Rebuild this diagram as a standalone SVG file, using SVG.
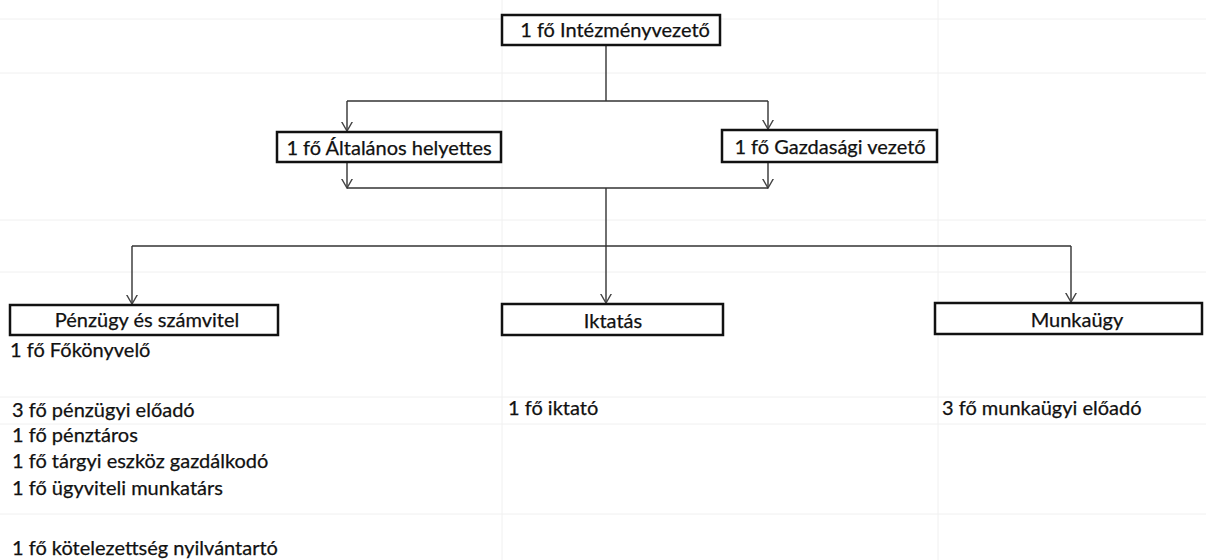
<svg xmlns="http://www.w3.org/2000/svg" width="1206" height="560" viewBox="0 0 1206 560">
<style>
.box{fill:#fff;stroke:#111;stroke-width:2.5}
.t{font-family:Lato,"Liberation Sans",sans-serif;font-size:20px;fill:#111;stroke:#111;stroke-width:0.25}
.c{text-anchor:middle}
.conn{fill:none;stroke:#333;stroke-width:1.4}
.grid{stroke:#f0f0f0;stroke-width:1}
</style>
<defs>
<marker id="arr" viewBox="0 0 10 12" refX="9.5" refY="6" markerWidth="10" markerHeight="12" markerUnits="userSpaceOnUse" orient="auto">
<path d="M0,0.5 L9.5,6 L0,11.5" fill="none" stroke="#444" stroke-width="1.4"/>
</marker>
</defs>
<rect width="1206" height="560" fill="#fff"/>
<g id="grid">
<line class="grid" x1="502" y1="0" x2="502" y2="560"/>
<line class="grid" x1="938" y1="0" x2="938" y2="560"/>
<line class="grid" x1="0" y1="19" x2="1206" y2="19"/>
<line class="grid" x1="0" y1="73" x2="1206" y2="73"/>
<line class="grid" x1="0" y1="220" x2="1206" y2="220"/>
<line class="grid" x1="0" y1="272" x2="1206" y2="272"/>
<line class="grid" x1="0" y1="397" x2="1206" y2="397"/>
<line class="grid" x1="0" y1="424" x2="1206" y2="424"/>
<line class="grid" x1="0" y1="514" x2="1206" y2="514"/>
</g>
<g id="connectors">
<polyline class="conn" points="606,45 606,101"/>
<polyline class="conn" points="347,101 768,101"/>
<line class="conn" x1="347" y1="101" x2="347" y2="131" marker-end="url(#arr)"/>
<line class="conn" x1="768" y1="101" x2="768" y2="129" marker-end="url(#arr)"/>
<line class="conn" x1="347" y1="163" x2="347" y2="188" marker-end="url(#arr)"/>
<line class="conn" x1="768" y1="163" x2="768" y2="188" marker-end="url(#arr)"/>
<polyline class="conn" points="347,188 768,188"/>
<polyline class="conn" points="606,188 606,246"/>
<polyline class="conn" points="132,246 1071,246"/>
<line class="conn" x1="132" y1="246" x2="132" y2="304" marker-end="url(#arr)"/>
<line class="conn" x1="606" y1="246" x2="606" y2="303" marker-end="url(#arr)"/>
<line class="conn" x1="1071" y1="246" x2="1071" y2="302" marker-end="url(#arr)"/>
</g>
<g id="intezmenyvezeto">
<rect class="box" x="502" y="15" width="218" height="30"/>
<text class="t c" x="615" y="37">1 fő Intézményvezető</text>
</g>
<g id="altalanos-helyettes">
<rect class="box" x="277" y="132" width="224" height="30"/>
<text class="t c" x="389" y="155">1 fő Általános helyettes</text>
</g>
<g id="gazdasagi-vezeto">
<rect class="box" x="722" y="130" width="215" height="32"/>
<text class="t c" x="830" y="154">1 fő Gazdasági vezető</text>
</g>
<g id="penzugy">
<rect class="box" x="10" y="305" width="268" height="30"/>
<text class="t c" x="147" y="327">Pénzügy és számvitel</text>
<text class="t" x="10" y="357">1 fő Főkönyvelő</text>
<text class="t" x="12" y="417">3 fő pénzügyi előadó</text>
<text class="t" x="12" y="442">1 fő pénztáros</text>
<text class="t" x="12" y="468">1 fő tárgyi eszköz gazdálkodó</text>
<text class="t" x="12" y="495">1 fő ügyviteli munkatárs</text>
<text class="t" x="12" y="555">1 fő kötelezettség nyilvántartó</text>
</g>
<g id="iktatas">
<rect class="box" x="502" y="304" width="221" height="31"/>
<text class="t c" x="613" y="328">Iktatás</text>
<text class="t" x="508" y="415">1 fő iktató</text>
</g>
<g id="munkaugy">
<rect class="box" x="935" y="303" width="267" height="31"/>
<text class="t c" x="1077" y="327">Munkaügy</text>
<text class="t" x="942" y="415">3 fő munkaügyi előadó</text>
</g>
</svg>
